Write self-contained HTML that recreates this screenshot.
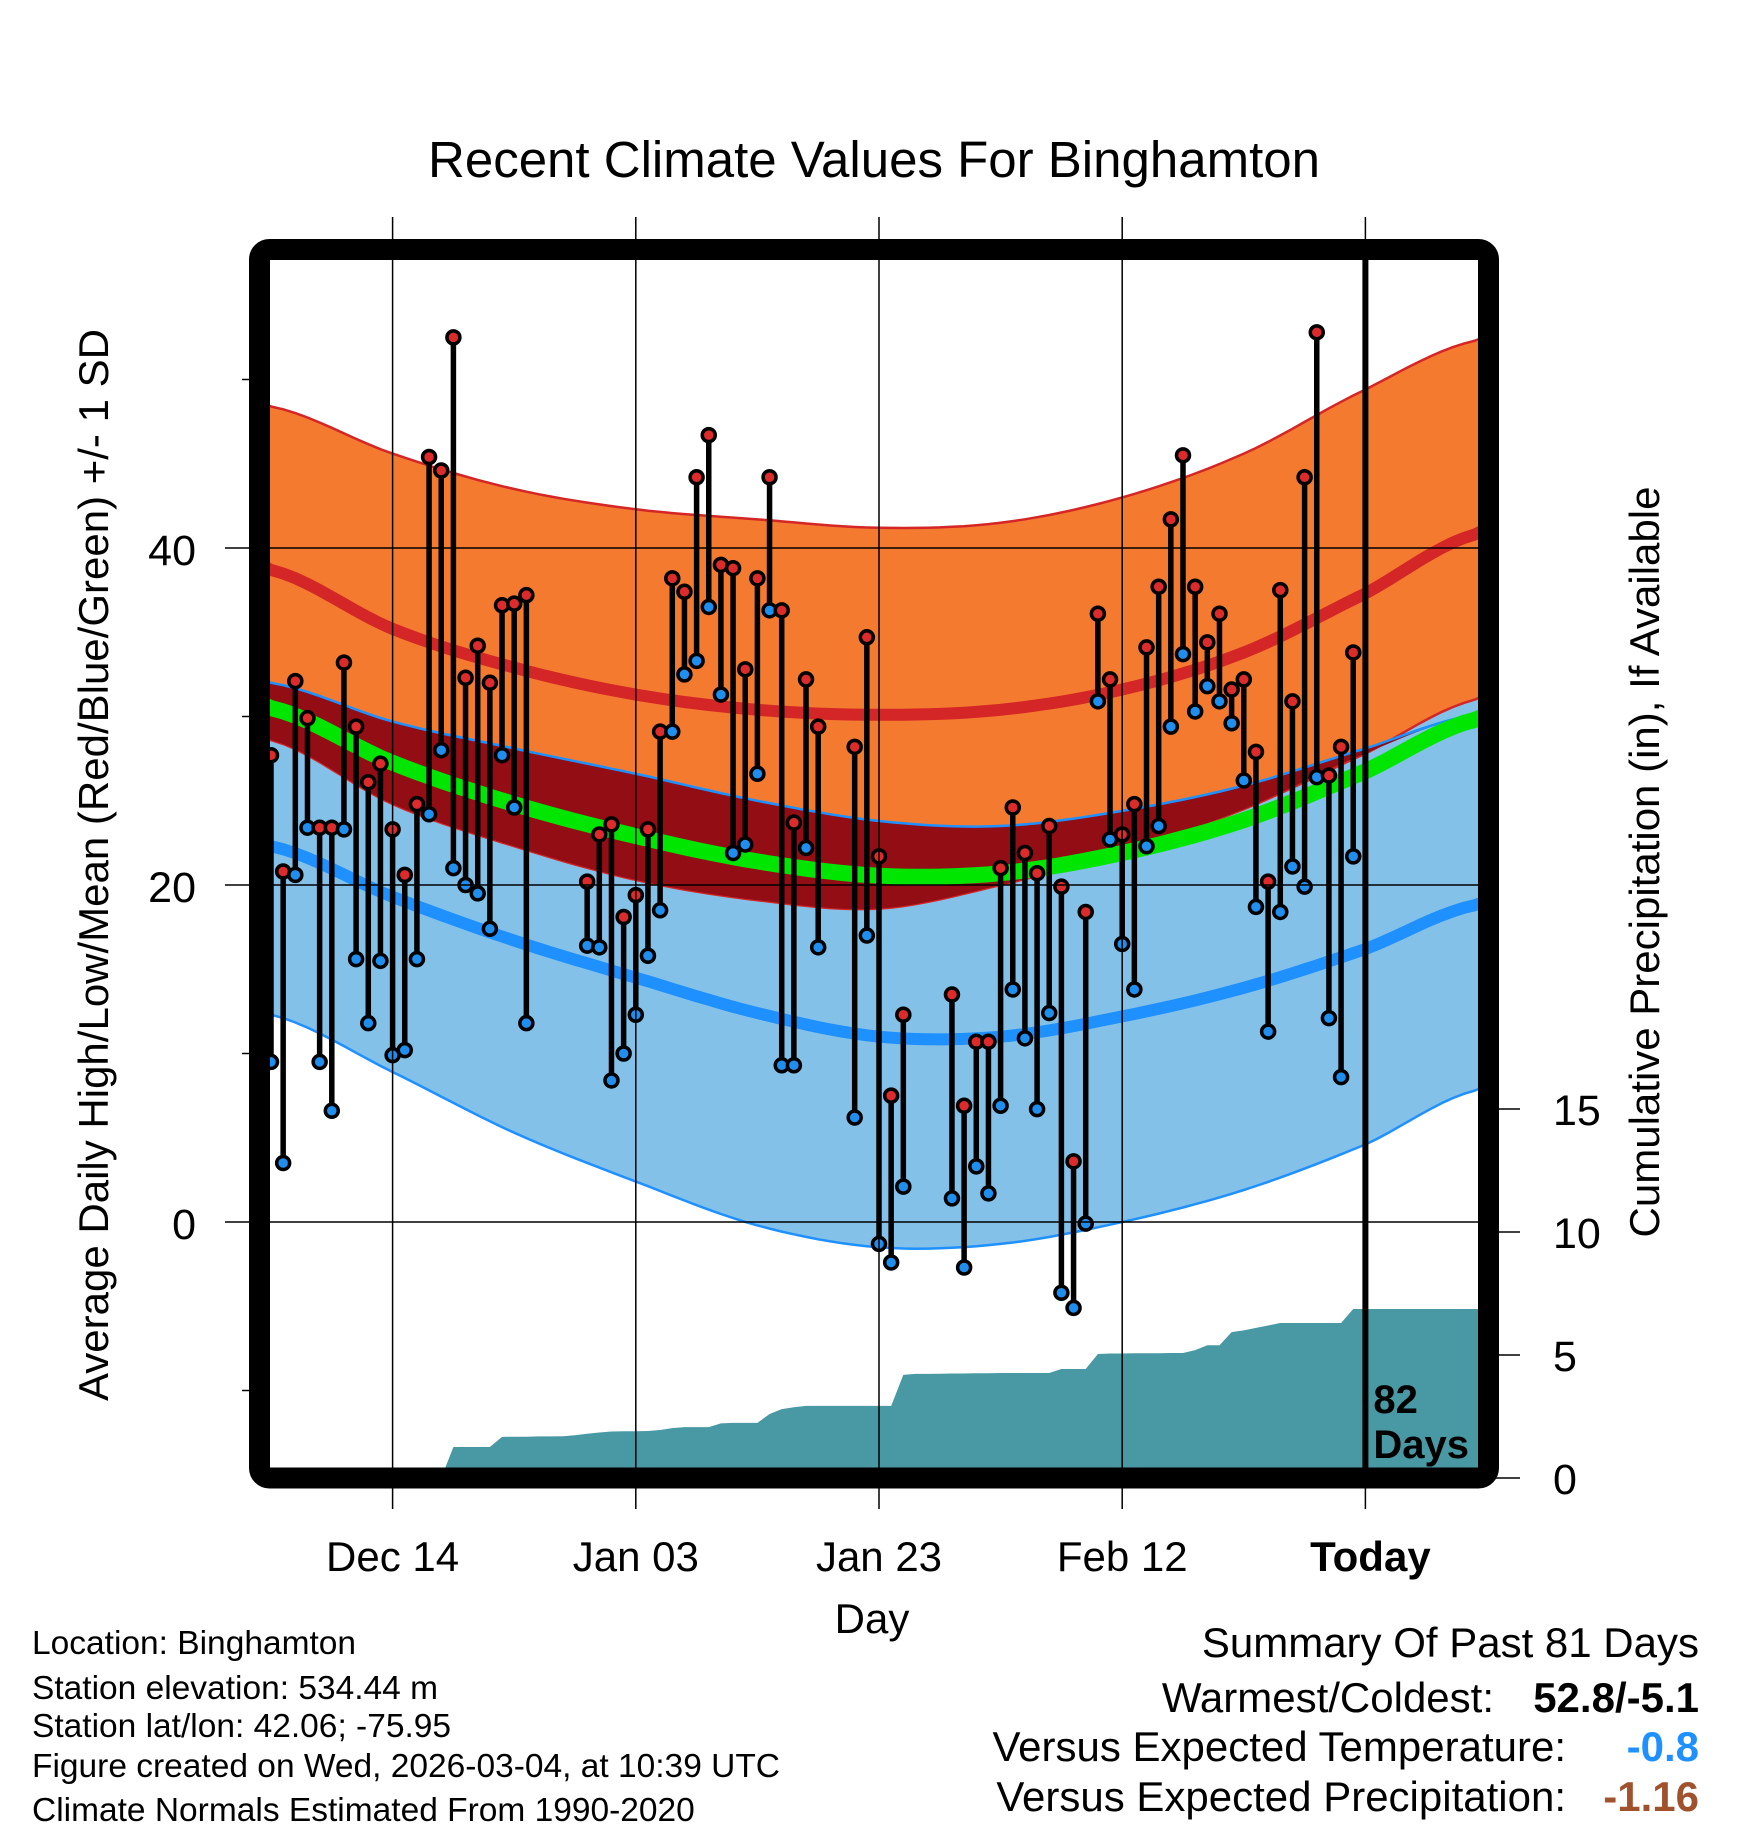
<!DOCTYPE html>
<html><head><meta charset="utf-8">
<style>
html,body{margin:0;padding:0;background:#fff;}
svg text{font-family:"Liberation Sans",Arial,sans-serif;}
</style></head>
<body>
<svg id="chart" width="1748" height="1828" viewBox="0 0 1748 1828" xmlns="http://www.w3.org/2000/svg">
<defs><clipPath id="plotclip"><rect x="270" y="260" width="1208" height="1208"/></clipPath></defs>
<text x="874" y="177" font-size="51" text-anchor="middle">Recent Climate Values For Binghamton</text>
<g id="plot" clip-path="url(#plotclip)"></g>
<g id="axes"></g>
<rect x="259.5" y="249.5" width="1229" height="1228.5" rx="10" fill="none" stroke="#000" stroke-width="21"/>
<text transform="translate(108,865) rotate(-90)" font-size="42" text-anchor="middle">Average Daily High/Low/Mean (Red/Blue/Green) +/- 1 SD</text>
<text transform="translate(1659,862) rotate(-90)" font-size="42" text-anchor="middle">Cumulative Precipitation (in), If Available</text>
<text x="872" y="1633" font-size="42" text-anchor="middle">Day</text>
<g font-size="33.5">
<text x="32" y="1654">Location: Binghamton</text>
<text x="32" y="1699">Station elevation: 534.44 m</text>
<text x="32" y="1737">Station lat/lon: 42.06; -75.95</text>
<text x="32" y="1777">Figure created on Wed, 2026-03-04, at 10:39 UTC</text>
<text x="32" y="1821">Climate Normals Estimated From 1990-2020</text>
</g>
<g font-size="42">
<text x="1699" y="1657" text-anchor="end">Summary Of Past 81 Days</text>
<text x="1494" y="1712" text-anchor="end">Warmest/Coldest:</text>
<text x="1699" y="1712" text-anchor="end" font-weight="bold">52.8/-5.1</text>
<text x="1566" y="1761" text-anchor="end">Versus Expected Temperature:</text>
<text x="1699" y="1761" text-anchor="end" font-weight="bold" fill="#1e90ff">-0.8</text>
<text x="1566" y="1811" text-anchor="end">Versus Expected Precipitation:</text>
<text x="1699" y="1811" text-anchor="end" font-weight="bold" fill="#a0522d">-1.16</text>
</g>
</svg>
<script>
// ---- data ----
const obsDays = [0,1,2,3,4,5,6,7,8,9,10,11,12,13,14,15,16,17,18,19,20,21,26,27,28,29,30,31,32,33,34,35,36,37,38,39,40,41,42,43,44,45,48,49,50,51,52,56,57,58,59,60,61,62,63,64,65,66,67,68,69,70,71,72,73,74,75,76,77,78,79,80,81,82,83,84,85,86,87,88,89];
const highs = [27.7,20.8,32.1,29.9,23.4,23.4,33.2,29.4,26.1,27.2,23.3,20.6,24.8,45.4,44.6,52.5,32.3,34.2,32.0,36.6,36.7,37.2,20.2,23.0,23.6,18.1,19.4,23.3,29.1,38.2,37.4,44.2,46.7,39.0,38.8,32.8,38.2,44.2,36.3,23.7,32.2,29.4,28.2,34.7,21.7,7.5,12.3,13.5,6.9,10.7,10.7,21.0,24.6,21.9,20.7,23.5,19.9,3.6,18.4,36.1,32.2,23.0,24.8,34.1,37.7,41.7,45.5,37.7,34.4,36.1,31.6,32.2,27.9,20.2,37.5,30.9,44.2,52.8,26.5,28.2,33.8];
const lows = [9.5,3.5,20.6,23.4,9.5,6.6,23.3,15.6,11.8,15.5,9.9,10.2,15.6,24.2,28.0,21.0,20.0,19.5,17.4,27.7,24.6,11.8,16.4,16.3,8.4,10.0,12.3,15.8,18.5,29.1,32.5,33.3,36.5,31.3,21.9,22.4,26.6,36.3,9.3,9.3,22.2,16.3,6.2,17.0,-1.3,-2.4,2.1,1.4,-2.7,3.3,1.7,6.9,13.8,10.9,6.7,12.4,-4.2,-5.1,-0.1,30.9,22.7,16.5,13.8,22.3,23.5,29.4,33.7,30.3,31.8,30.9,29.6,26.2,18.7,11.3,18.4,21.1,19.9,26.4,12.1,8.6,21.7];
const knotDays = [0,10,20,30,40,50,60,70,80,90,99];
const highUpper = [48.4,45.6,43.5,42.3,41.7,41.2,41.5,43.0,45.6,49.4,52.3];
const highMean  = [38.7,35.2,32.9,31.3,30.4,30.1,30.4,31.6,33.8,37.3,40.8];
const highLower = [28.6,24.8,22.3,20.3,19.1,18.6,20.0,22.0,24.5,27.8,31.0];
const lowUpper  = [32.0,29.7,28.1,26.6,25.0,23.8,23.5,24.4,25.9,28.1,30.1];
const lowMean   = [22.3,19.3,16.7,14.5,12.4,11.0,11.0,12.2,13.9,16.2,18.8];
const lowLower  = [12.3,8.9,5.3,2.4,-0.2,-1.5,-1.3,0.0,1.9,4.6,7.8];
const precipCum = [0,0,0,0,0,0,0,0,0,0,0,0,0,0,0,
 1.26,1.26,1.26,1.26,1.67,1.68,1.68,1.69,1.69,1.70,1.74,1.80,1.85,1.89,1.90,
 1.90,1.91,1.95,2.03,2.07,2.07,2.07,2.22,2.24,2.24,2.24,2.60,2.80,2.88,2.93,
 2.93,2.93,2.93,2.93,2.93,2.93,2.93,4.19,4.23,4.23,4.24,4.25,4.25,4.26,4.26,
 4.27,4.27,4.27,4.27,4.27,4.43,4.43,4.43,5.04,5.06,5.06,5.07,5.07,5.07,5.08,
 5.08,5.20,5.40,5.40,5.93,6.00,6.10,6.20,6.30,6.30,6.30,6.30,6.30,6.30,6.87];
const xTickDays = [10,30,50,70,90];
const xTickLabels = ["Dec 14","Jan 03","Jan 23","Feb 12","Today"];
const yTicks = [40,20,0];
const yMinorTicks = [50,30,10,-10];
const y2Ticks = [0,5,10,15];
const todayDay = 90;

// ---- scales ----
const X = d => 271 + 12.16*d;
const Y = t => 1222 - 16.85*t;
const P = p => 1478 - 24.6*p;
const NS='http://www.w3.org/2000/svg';
const plot=document.getElementById('plot'), axes=document.getElementById('axes');
function mk(tag,parent,attrs){const e=document.createElementNS(NS,tag);for(const k in attrs)e.setAttribute(k,attrs[k]);parent.appendChild(e);return e;}

function smooth(vals){
  const pts=[];
  for(let i=0;i<knotDays.length-1;i++){
    const p0=vals[Math.max(i-1,0)],p1=vals[i],p2=vals[i+1],p3=vals[Math.min(i+2,vals.length-1)];
    const d0=knotDays[i],d1=knotDays[i+1];
    for(let s=0;s<10;s++){const t=s/10;
      const v=0.5*((2*p1)+(-p0+p2)*t+(2*p0-5*p1+4*p2-p3)*t*t+(-p0+3*p1-3*p2+p3)*t*t*t);
      pts.push([d0+(d1-d0)*t,v]);}
  }
  const n=vals.length;
  pts.push([knotDays[n-1],vals[n-1]]);
  pts.push([101,vals[n-1]+(vals[n-1]-vals[n-2])*0.2]);
  pts.unshift([-1,vals[0]-(vals[1]-vals[0])*0.1]);
  return pts;
}
const line=pts=>pts.map((p,i)=>(i?'L':'M')+X(p[0]).toFixed(1)+','+Y(p[1]).toFixed(1)).join('');
function band(up,lo){const a=smooth(up),b=smooth(lo).reverse();return line(a)+b.map(p=>'L'+X(p[0]).toFixed(1)+','+Y(p[1]).toFixed(1)).join('')+'Z';}

const hu=highUpper,hl=highLower,lu=lowUpper,ll=lowLower;
let e;
e=mk('path',plot,{d:band(hu,ll),fill:'#84c1e8'});


e=mk('path',plot,{d:band(lu,ll),fill:'#84c1e8',stroke:'#1e90ff','stroke-width':2.5});


e=mk('path',plot,{d:band(hu,hl),fill:'#f47a30',stroke:'#d42626','stroke-width':2.5});


const ovU=lu.slice(), ovL=hl.map((v,i)=>Math.min(hl[i],lu[i]));
e=mk('path',plot,{d:band(ovU,ovL),fill:'#930d15'});


e=mk('path',plot,{d:line(smooth(lu)),fill:'none',stroke:'#1e90ff','stroke-width':2.5});


e=mk('path',plot,{d:line(smooth(highMean)),fill:'none',stroke:'#d42626','stroke-width':12});


e=mk('path',plot,{d:line(smooth(lowMean)),fill:'none',stroke:'#1e90ff','stroke-width':12});


const meanVals=highMean.map((v,i)=>(v+lowMean[i])/2);
e=mk('path',plot,{d:line(smooth(meanVals)),fill:'none',stroke:'#00e600','stroke-width':16});



let pd='M'+X(0)+','+P(0);
precipCum.forEach((v,i)=>{pd+='L'+X(i).toFixed(1)+','+P(v).toFixed(1);});
pd+='L1490,'+P(precipCum[precipCum.length-1]).toFixed(1)+'L1490,'+P(0)+'Z';
e=mk('path',plot,{d:pd,fill:'#4899a3'});



yTicks.forEach(t=>{
  e=mk('line',axes,{x1:225,x2:1478,y1:Y(t),y2:Y(t),stroke:'#000','stroke-width':1.5});
  
  
  e=mk('text',axes,{x:196,y:Y(t)+17,'font-size':43,'text-anchor':'end'});
  e.textContent=t;
  
  
});
yMinorTicks.forEach(t=>{
  e=mk('line',axes,{x1:242,x2:254,y1:Y(t),y2:Y(t),stroke:'#000','stroke-width':1.5});
  
  
});
y2Ticks.forEach(p=>{
  e=mk('line',axes,{x1:1494,x2:1520,y1:P(p),y2:P(p),stroke:'#000','stroke-width':1.5});
  
  
  e=mk('text',axes,{x:1553,y:P(p)+16,'font-size':43,'text-anchor':'start'});
  e.textContent=p;
  
  
});
xTickDays.forEach((d,i)=>{
  const today=d===todayDay;
  e=mk('line',axes,{x1:X(d),x2:X(d),y1:217,y2:1509,stroke:'#000','stroke-width':1.5});
  
  
  e=mk('text',axes,{x:X(d)+(today?5:0),y:1571,'font-size':42,'text-anchor':'middle','font-weight':today?'bold':'normal'});
  e.textContent=xTickLabels[i];
  
  
});
e=mk('line',axes,{x1:X(todayDay),x2:X(todayDay),y1:260,y2:1468,stroke:'#000','stroke-width':6});


e=mk('text',axes,{x:X(todayDay)+8,y:1413,'font-size':40,'font-weight':'bold'});
e.textContent='82';


e=mk('text',axes,{x:X(todayDay)+8,y:1458,'font-size':40,'font-weight':'bold'});
e.textContent='Days';



const marks=mk('g',plot,{});
obsDays.forEach((d,i)=>{
  e=mk('line',marks,{x1:X(d),x2:X(d),y1:Y(highs[i]),y2:Y(lows[i]),stroke:'#000','stroke-width':5.5});
  
  
});
obsDays.forEach((d,i)=>{
  e=mk('circle',marks,{cx:X(d),cy:Y(highs[i]),r:6.5,fill:'#dd2a2a',stroke:'#000','stroke-width':3.5});
  
  
  e=mk('circle',marks,{cx:X(d),cy:Y(lows[i]),r:6.5,fill:'#1f8fef',stroke:'#000','stroke-width':3.5});
  
  
});
</script>
</body></html>
